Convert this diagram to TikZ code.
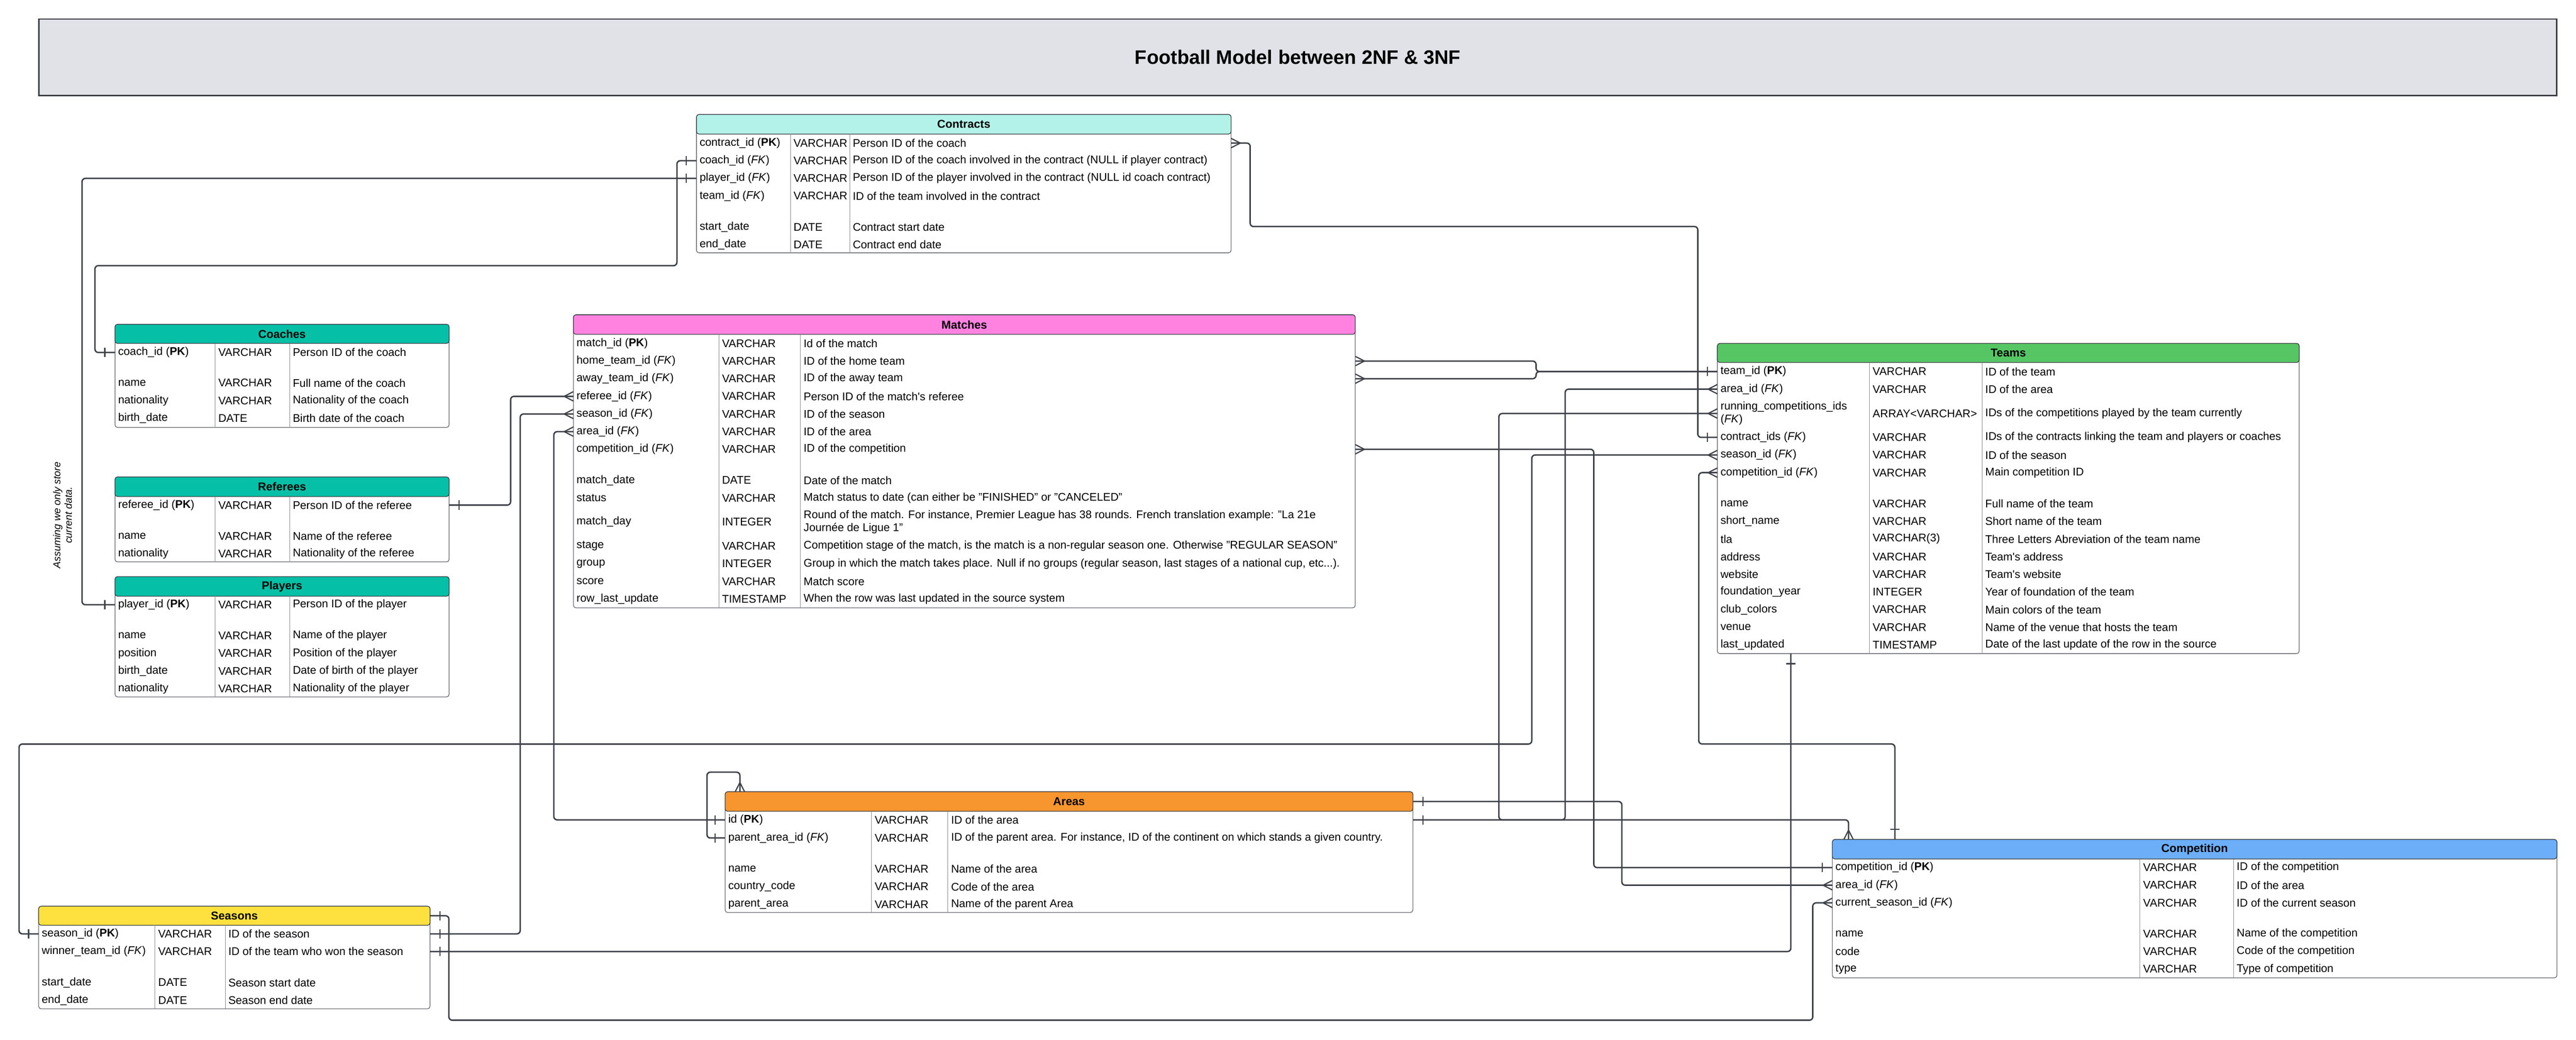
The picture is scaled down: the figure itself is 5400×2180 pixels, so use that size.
\documentclass[tikz,border=0pt]{standalone}
\usepackage{fontspec}
\setmainfont{Liberation Sans}
\usetikzlibrary{decorations.markings}

\definecolor{lk}{HTML}{3D4148}
\definecolor{hcon}{HTML}{B3F2E9}
\definecolor{hper}{HTML}{05C0A6}
\definecolor{hmat}{HTML}{FF82E0}
\definecolor{htea}{HTML}{56C664}
\definecolor{hare}{HTML}{F7952F}
\definecolor{hsea}{HTML}{FEE03E}
\definecolor{hcom}{HTML}{6CAEF8}
\definecolor{htit}{HTML}{E0E2E7}

\tikzset{
  tbl/.style={draw=lk!80, line width=0.4pt, fill=white, rounded corners=1.5pt, anchor=north west, inner sep=0pt, outer sep=0pt},
  hdr/.style={draw=lk, line width=0.4pt, rounded corners=1.5pt, anchor=north west, inner sep=0pt, outer sep=0pt, minimum height=0.41cm, font=\fontsize{6.8}{8}\selectfont\bfseries},
  fld/.style={anchor=west, inner sep=0pt, align=left, font=\fontsize{6.65}{7.7}\selectfont},
  div/.style={draw=lk!60, line width=0.3pt},
  link/.style={draw=lk, line width=0.85pt, rounded corners=2pt},
  oneend/.style={postaction={decorate, decoration={markings, mark=at position -6pt with {\draw[lk, line width=0.7pt, sharp corners] (0pt,-2.8pt) -- (0pt,2.8pt);}}}},
  onestart/.style={postaction={decorate, decoration={markings, mark=at position 6pt with {\draw[lk, line width=0.7pt, sharp corners] (0pt,-2.8pt) -- (0pt,2.8pt);}}}},
  manyend/.style={postaction={decorate, decoration={markings, mark=at position -5.5pt with {\draw[lk, line width=0.7pt, sharp corners] (5.5pt,2.8pt) -- (0pt,0pt) -- (5.5pt,-2.8pt);}}}},
  manystart/.style={postaction={decorate, decoration={markings, mark=at position 5.5pt with {\draw[lk, line width=0.7pt, sharp corners] (-5.5pt,2.8pt) -- (0pt,0pt) -- (-5.5pt,-2.8pt);}}}}
}

% one table row: name, y, column texts
\newcommand{\addrow}[5]{%
  \node[fld] (#1) at (\colA,#2) {#3};
  \node[fld] (#1-t) at (\colB,#2) {#4};
  \node[fld] (#1-d) at (\colC,#2) {#5};}

\begin{document}
\begin{tikzpicture}[x=0.01cm, y=-0.01cm]
  \useasboundingbox (0,0) rectangle (5400,2180);

  \node[draw=lk, line width=0.8pt, fill=htit, minimum width=52.75cm, minimum height=1.6cm, font=\fontsize{11.65}{13}\selectfont\bfseries] (title) at (2720.5,120) {Football Model between 2NF \& 3NF};

  % Contracts
  \begin{scope}
    \def\colA{1466}\def\colB{1663}\def\colC{1787}
    \node[tbl, minimum width=11.2cm, minimum height=2.9cm] (con) at (1460,240) {};
    \node[hdr, fill=hcon, minimum width=11.2cm] (con-h) at (1460,240) {Contracts};
    \draw[div] (1657,281) -- (1657,530);
    \draw[div] (1781,281) -- (1781,530);
    \addrow{con-pk}{300}{contract\_id (\textbf{PK})}{VARCHAR}{Person ID of the coach}
    \addrow{con-coach}{337}{coach\_id (\textit{FK})}{VARCHAR}{Person ID of the coach involved in the contract (NULL if player contract)}
    \addrow{con-player}{374}{player\_id (\textit{FK})}{VARCHAR}{Person ID of the player involved in the contract (NULL id coach contract)}
    \addrow{con-team}{411}{team\_id (\textit{FK})}{VARCHAR}{ID of the team involved in the contract}
    \addrow{con-start}{476}{start\_date}{DATE}{Contract start date}
    \addrow{con-end}{513}{end\_date}{DATE}{Contract end date}
  \end{scope}

  % Coaches, Referees, Players
  \begin{scope}
    \def\colA{247}\def\colB{457}\def\colC{613}
    \node[tbl, minimum width=7cm, minimum height=2.16cm] (coa) at (241,680) {};
    \node[hdr, fill=hper, minimum width=7cm, minimum height=0.4cm] (coa-h) at (241,680) {Coaches};
    \draw[div] (451,720) -- (451,896);
    \draw[div] (607,720) -- (607,896);
    \addrow{coa-pk}{739}{coach\_id (\textbf{PK})}{VARCHAR}{Person ID of the coach}
    \addrow{coa-name}{803}{name}{VARCHAR}{Full name of the coach}
    \addrow{coa-nat}{840}{nationality}{VARCHAR}{Nationality of the coach}
    \addrow{coa-birth}{877}{birth\_date}{DATE}{Birth date of the coach}

    \node[tbl, minimum width=7cm, minimum height=1.78cm] (ref) at (241,1000) {};
    \node[hdr, fill=hper, minimum width=7cm] (ref-h) at (241,1000) {Referees};
    \draw[div] (451,1041) -- (451,1178);
    \draw[div] (607,1041) -- (607,1178);
    \addrow{ref-pk}{1059}{referee\_id (\textbf{PK})}{VARCHAR}{Person ID of the referee}
    \addrow{ref-name}{1124}{name}{VARCHAR}{Name of the referee}
    \addrow{ref-nat}{1161}{nationality}{VARCHAR}{Nationality of the referee}

    \node[tbl, minimum width=7cm, minimum height=2.52cm] (pla) at (241,1209) {};
    \node[hdr, fill=hper, minimum width=7cm] (pla-h) at (241,1209) {Players};
    \draw[div] (451,1250) -- (451,1461);
    \draw[div] (607,1250) -- (607,1461);
    \addrow{pla-pk}{1268}{player\_id (\textbf{PK})}{VARCHAR}{Person ID of the player}
    \addrow{pla-name}{1333}{name}{VARCHAR}{Name of the player}
    \addrow{pla-pos}{1370}{position}{VARCHAR}{Position of the player}
    \addrow{pla-birth}{1407}{birth\_date}{VARCHAR}{Date of birth of the player}
    \addrow{pla-nat}{1444}{nationality}{VARCHAR}{Nationality of the player}
  \end{scope}

  \node[fld, anchor=center, align=center, rotate=90, font=\fontsize{6}{6.8}\selectfont\itshape] (note) at (131,1080) {Assuming we only store\\current data.};

  % Matches
  \begin{scope}
    \def\colA{1208}\def\colB{1513}\def\colC{1684}
    \node[tbl, minimum width=16.38cm, minimum height=6.14cm] (mat) at (1202,660) {};
    \node[hdr, fill=hmat, minimum width=16.38cm] (mat-h) at (1202,660) {Matches};
    \draw[div] (1507,701) -- (1507,1274);
    \draw[div] (1678,701) -- (1678,1274);
    \addrow{m-pk}{720}{match\_id (\textbf{PK})}{VARCHAR}{Id of the match}
    \addrow{m-home}{757}{home\_team\_id (\textit{FK})}{VARCHAR}{ID of the home team}
    \addrow{m-away}{794}{away\_team\_id (\textit{FK})}{VARCHAR}{ID of the away team}
    \addrow{m-ref}{831}{referee\_id (\textit{FK})}{VARCHAR}{Person ID of the match\textquotesingle s referee}
    \addrow{m-season}{868}{season\_id (\textit{FK})}{VARCHAR}{ID of the season}
    \addrow{m-area}{905}{area\_id (\textit{FK})}{VARCHAR}{ID of the area}
    \addrow{m-comp}{942}{competition\_id (\textit{FK})}{VARCHAR}{ID of the competition}
    \addrow{m-date}{1007}{match\_date}{DATE}{Date of the match}
    \addrow{m-status}{1044}{status}{VARCHAR}{Match status to date (can either be "FINISHED" or "CANCELED"}
    \addrow{m-day}{1094}{match\_day}{INTEGER}{Round of the match. For instance, Premier League has 38 rounds. French translation example: "La 21e\\Journée de Ligue 1"}
    \addrow{m-stage}{1145}{stage}{VARCHAR}{Competition stage of the match, is the match is a non-regular season one. Otherwise "REGULAR SEASON"}
    \addrow{m-group}{1182}{group}{INTEGER}{Group in which the match takes place. Null if no groups (regular season, last stages of a national cup, etc...).}
    \addrow{m-score}{1219}{score}{VARCHAR}{Match score}
    \addrow{m-update}{1256}{row\_last\_update}{TIMESTAMP}{When the row was last updated in the source system}
  \end{scope}

  % Teams
  \begin{scope}
    \def\colA{3606}\def\colB{3925}\def\colC{4161}
    \node[tbl, minimum width=12.19cm, minimum height=6.5cm] (tea) at (3600,720) {};
    \node[hdr, fill=htea, minimum width=12.19cm, minimum height=0.4cm] (tea-h) at (3600,720) {Teams};
    \draw[div] (3919,760) -- (3919,1370);
    \draw[div] (4155,760) -- (4155,1370);
    \addrow{t-pk}{779}{team\_id (\textbf{PK})}{VARCHAR}{ID of the team}
    \addrow{t-area}{816}{area\_id (\textit{FK})}{VARCHAR}{ID of the area}
    \addrow{t-running}{867}{running\_competitions\_ids\\(\textit{FK})}{ARRAY<VARCHAR>}{IDs of the competitions played by the team currently}
    \addrow{t-contract}{917}{contract\_ids (\textit{FK})}{VARCHAR}{IDs of the contracts linking the team and players or coaches}
    \addrow{t-season}{954}{season\_id (\textit{FK})}{VARCHAR}{ID of the season}
    \addrow{t-comp}{991}{competition\_id (\textit{FK})}{VARCHAR}{Main competition ID}
    \addrow{t-name}{1056}{name}{VARCHAR}{Full name of the team}
    \addrow{t-short}{1093}{short\_name}{VARCHAR}{Short name of the team}
    \addrow{t-tla}{1130}{tla}{VARCHAR(3)}{Three Letters Abreviation of the team name}
    \addrow{t-address}{1167}{address}{VARCHAR}{Team\textquotesingle s address}
    \addrow{t-web}{1204}{website}{VARCHAR}{Team\textquotesingle s website}
    \addrow{t-found}{1241}{foundation\_year}{INTEGER}{Year of foundation of the team}
    \addrow{t-colors}{1278}{club\_colors}{VARCHAR}{Main colors of the team}
    \addrow{t-venue}{1315}{venue}{VARCHAR}{Name of the venue that hosts the team}
    \addrow{t-update}{1352}{last\_updated}{TIMESTAMP}{Date of the last update of the row in the source}
  \end{scope}

  % Areas
  \begin{scope}
    \def\colA{1526}\def\colB{1833}\def\colC{1993}
    \node[tbl, minimum width=14.41cm, minimum height=2.53cm] (are) at (1520,1660) {};
    \node[hdr, fill=hare, minimum width=14.41cm] (are-h) at (1520,1660) {Areas};
    \draw[div] (1827,1701) -- (1827,1913);
    \draw[div] (1987,1701) -- (1987,1913);
    \addrow{a-pk}{1719}{id (\textbf{PK})}{VARCHAR}{ID of the area}
    \addrow{a-parent}{1757}{parent\_area\_id (\textit{FK})}{VARCHAR}{ID of the parent area. For instance, ID of the continent on which stands a given country.}
    \addrow{a-name}{1822}{name}{VARCHAR}{Name of the area}
    \addrow{a-code}{1859}{country\_code}{VARCHAR}{Code of the area}
    \addrow{a-pname}{1896}{parent\_area}{VARCHAR}{Name of the parent Area}
  \end{scope}

  % Seasons
  \begin{scope}
    \def\colA{87}\def\colB{331}\def\colC{478}
    \node[tbl, minimum width=8.2cm, minimum height=2.15cm] (sea) at (81,1900) {};
    \node[hdr, fill=hsea, minimum width=8.2cm, minimum height=0.4cm] (sea-h) at (81,1900) {Seasons};
    \draw[div] (325,1940) -- (325,2115);
    \draw[div] (472,1940) -- (472,2115);
    \addrow{s-pk}{1958}{season\_id (\textbf{PK})}{VARCHAR}{ID of the season}
    \addrow{s-winner}{1995}{winner\_team\_id (\textit{FK})}{VARCHAR}{ID of the team who won the season}
    \addrow{s-start}{2060}{start\_date}{DATE}{Season start date}
    \addrow{s-end}{2097}{end\_date}{DATE}{Season end date}
  \end{scope}

  % Competition
  \begin{scope}
    \def\colA{3847}\def\colB{4492}\def\colC{4688}
    \node[tbl, minimum width=15.18cm, minimum height=2.9cm] (com) at (3841,1760) {};
    \node[hdr, fill=hcom, minimum width=15.18cm] (com-h) at (3841,1760) {Competition};
    \draw[div] (4486,1801) -- (4486,2050);
    \draw[div] (4682,1801) -- (4682,2050);
    \addrow{k-pk}{1819}{competition\_id (\textbf{PK})}{VARCHAR}{ID of the competition}
    \addrow{k-area}{1856}{area\_id (\textit{FK})}{VARCHAR}{ID of the area}
    \addrow{k-season}{1893}{current\_season\_id (\textit{FK})}{VARCHAR}{ID of the current season}
    \addrow{k-name}{1958}{name}{VARCHAR}{Name of the competition}
    \addrow{k-code}{1995}{code}{VARCHAR}{Code of the competition}
    \addrow{k-type}{2032}{type}{VARCHAR}{Type of competition}
  \end{scope}

  % relations
  \begin{scope}[link]
    \draw[onestart, oneend] (con.west |- con-coach) -- ++(-41,0) |- (199,557) |- (coa.west |- coa-pk);
    \draw[onestart, oneend] (con.west |- con-player) -| (172,1268) -- (pla.west |- pla-pk);
    \draw[onestart, manyend] (ref.east |- ref-pk) -- ++(129,0) |- (mat.west |- m-ref);
    \draw[onestart, manyend] (sea.east |- s-pk) -- ++(189,0) |- (mat.west |- m-season);
    \draw[manystart, oneend] (mat.west |- m-area) -- ++(-41,0) |- (are.west |- a-pk);
    \draw[onestart, manyend] (are.west |- a-parent) -- ++(-38,0) |- ([xshift=0.31cm, yshift=0.41cm]are.north west) -- ([xshift=0.31cm]are.north west);
    \draw[manystart, oneend] (mat.east |- m-home) -- ++(379,0) |- (tea.west |- t-pk);
    \draw[manystart, oneend] (mat.east |- m-away) -- ++(379,0) |- (tea.west |- t-pk);
    \draw[manystart, oneend] (mat.east |- m-comp) -- ++(500,0) |- (com.west |- k-pk);
    \draw[manystart, oneend] (con.east |- con-pk) -- ++(40,0) |- (3559,475) |- (tea.west |- t-contract);
    \draw[manystart, oneend] (tea.west |- t-area) -- ++(-319,0) |- (are.east |- a-pk);
    \draw[manystart, manyend] (tea.west |- t-running) -- ++(-458,0) |- ([xshift=0.34cm, yshift=0.41cm]com.north west) -- ([xshift=0.34cm]com.north west);
    \draw[onestart, manyend] (are.east |- are-h) -- ++(438,0) |- (com.west |- k-area);
    \draw[manystart, oneend] (tea.west |- t-season) -- ++(-389,0) |- (40,1560) |- (sea.west |- s-pk);
    \draw[manystart, oneend] (tea.west |- t-comp) -- ++(-39,0) |- ([xshift=1.31cm, yshift=2cm]com.north west) -- ([xshift=1.31cm]com.north west);
    \draw[onestart, oneend] ([xshift=1.54cm]tea.south west) |- (sea.east |- s-winner);
    \draw[manystart, oneend] (com.west |- k-season) -- ++(-41,0) |- (941,2139) |- (sea.east |- sea-h);
  \end{scope}
\end{tikzpicture}
\end{document}
